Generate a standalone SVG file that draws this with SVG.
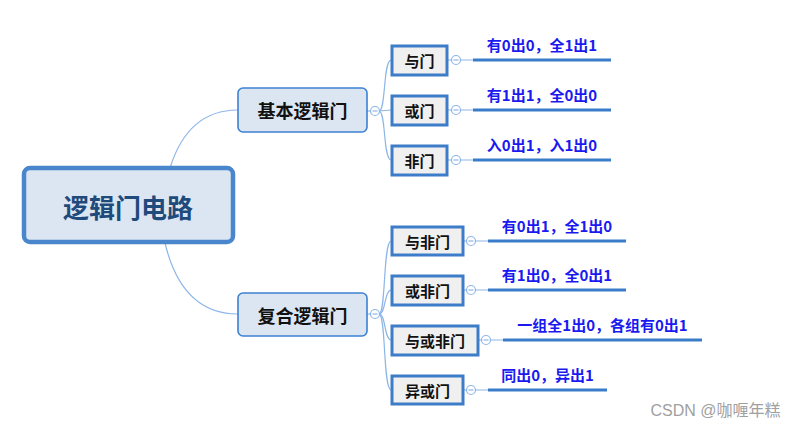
<svg xmlns="http://www.w3.org/2000/svg" width="799" height="430" viewBox="0 0 799 430">
<style>
text{font-family:"Noto Sans CJK SC","Noto Sans",sans-serif;}
.root{fill:#dce6f2;stroke:#4a86cc;stroke-width:4.5;}
.rt{font-size:26px;font-weight:bold;fill:#1f4a7c;}
.mid{fill:#dce6f2;stroke:#3d80d2;stroke-width:1.6;}
.mt{font-size:18px;font-weight:bold;fill:#111;}
.leaf{fill:#f0f0f0;stroke:#3c7cc8;stroke-width:3;}
.lt{font-size:15px;font-weight:bold;fill:#111;}
.conn{fill:none;stroke:#8db6e8;stroke-width:1.2;}
.ul{stroke:#3b7cc9;stroke-width:3;}
.note{font-size:15px;font-weight:bold;fill:#1a1af0;}
.col{fill:#fff;stroke:#8db6e8;stroke-width:1.2;}
.minus{stroke:#8db6e8;stroke-width:1.2;}
</style>
<defs>
<g id="collapse"><circle class="col" r="4.5"/><line class="minus" x1="-2.5" y1="0" x2="2.5" y2="0"/></g>
</defs>
<rect width="799" height="430" fill="#fff"/>
<g id="connectors">
<path class="conn" d="M170,168 Q188,110 238,110"/>
<path class="conn" d="M165,243 Q182,314 238,314"/>
<path class="conn" d="M367,111 L371,111"/>
<path class="conn" d="M367,314 L371,314"/>
<path class="conn" d="M379,111 C386,111 383,61 391,60"/>
<path class="conn" d="M379,111 L391,110"/>
<path class="conn" d="M379,111 C386,111 383,159 391,160"/>
<path class="conn" d="M379,314 C386,314 383,242 391,241"/>
<path class="conn" d="M379,314 C386,314 384,291 391,290"/>
<path class="conn" d="M379,314 C386,314 384,339 391,340"/>
<path class="conn" d="M379,314 C386,314 383,389 391,390"/>
<path class="conn" d="M447,60 L452,60 M460,60 L473,60"/>
<path class="conn" d="M447,110 L452,110 M460,110 L473,110"/>
<path class="conn" d="M447,160 L452,160 M460,160 L473,160"/>
<path class="conn" d="M463,241 L467,241 M475,241 L488,241"/>
<path class="conn" d="M463,290 L467,290 M475,290 L488,290"/>
<path class="conn" d="M478,340 L482,340 M490,340 L503,340"/>
<path class="conn" d="M463,390 L467,390 M475,390 L488,390"/>
<line class="ul" x1="473" y1="60" x2="611" y2="60"/>
<line class="ul" x1="473" y1="110" x2="611" y2="110"/>
<line class="ul" x1="473" y1="160" x2="611" y2="160"/>
<line class="ul" x1="488" y1="241" x2="626" y2="241"/>
<line class="ul" x1="488" y1="290" x2="626" y2="290"/>
<line class="ul" x1="503" y1="340" x2="702" y2="340"/>
<line class="ul" x1="488" y1="390" x2="607" y2="390"/>
<use href="#collapse" x="375" y="111"/>
<use href="#collapse" x="375" y="314"/>
<use href="#collapse" x="456" y="60"/>
<use href="#collapse" x="456" y="110"/>
<use href="#collapse" x="456" y="160"/>
<use href="#collapse" x="471" y="241"/>
<use href="#collapse" x="471" y="290"/>
<use href="#collapse" x="486" y="340"/>
<use href="#collapse" x="471" y="390"/>
</g>
<g id="root">
<rect class="root" x="24" y="168" width="209" height="74" rx="6"/>
<text class="rt" x="128" y="206" text-anchor="middle" dominant-baseline="central">逻辑门电路</text>
</g>
<g id="basic">
<rect class="mid" x="238" y="88" width="129" height="44" rx="5"/>
<text class="mt" x="302.5" y="110" text-anchor="middle" dominant-baseline="central">基本逻辑门</text>
</g>
<g id="compound">
<rect class="mid" x="238" y="293" width="129" height="43" rx="5"/>
<text class="mt" x="302.5" y="314.5" text-anchor="middle" dominant-baseline="central">复合逻辑门</text>
</g>
<g id="and">
<rect class="leaf" x="392" y="46" width="55" height="29"/>
<text class="lt" x="419.5" y="60.5" text-anchor="middle" dominant-baseline="central">与门</text>
<text class="note" x="542" y="51" text-anchor="middle">有0出0，全1出1</text>
</g>
<g id="or">
<rect class="leaf" x="392" y="96" width="55" height="29"/>
<text class="lt" x="419.5" y="110.5" text-anchor="middle" dominant-baseline="central">或门</text>
<text class="note" x="542" y="101" text-anchor="middle">有1出1，全0出0</text>
</g>
<g id="not">
<rect class="leaf" x="392" y="146" width="55" height="29"/>
<text class="lt" x="419.5" y="160.5" text-anchor="middle" dominant-baseline="central">非门</text>
<text class="note" x="542" y="151" text-anchor="middle">入0出1，入1出0</text>
</g>
<g id="nand">
<rect class="leaf" x="392" y="227" width="71" height="28"/>
<text class="lt" x="427.5" y="241" text-anchor="middle" dominant-baseline="central">与非门</text>
<text class="note" x="557" y="232" text-anchor="middle">有0出1，全1出0</text>
</g>
<g id="nor">
<rect class="leaf" x="392" y="276" width="71" height="29"/>
<text class="lt" x="427.5" y="290.5" text-anchor="middle" dominant-baseline="central">或非门</text>
<text class="note" x="557" y="281" text-anchor="middle">有1出0，全0出1</text>
</g>
<g id="aoi">
<rect class="leaf" x="392" y="326" width="86" height="29"/>
<text class="lt" x="435" y="340.5" text-anchor="middle" dominant-baseline="central">与或非门</text>
<text class="note" x="602.5" y="331" text-anchor="middle">一组全1出0，各组有0出1</text>
</g>
<g id="xor">
<rect class="leaf" x="392" y="376" width="71" height="28"/>
<text class="lt" x="427.5" y="390" text-anchor="middle" dominant-baseline="central">异或门</text>
<text class="note" x="547.5" y="381" text-anchor="middle">同出0，异出1</text>
</g>
<text x="715.5" y="416" text-anchor="middle" font-size="16" fill="#a0a0a0" style="font-family:'Liberation Sans','Noto Sans CJK SC',sans-serif">CSDN @咖喱年糕</text>
</svg>
